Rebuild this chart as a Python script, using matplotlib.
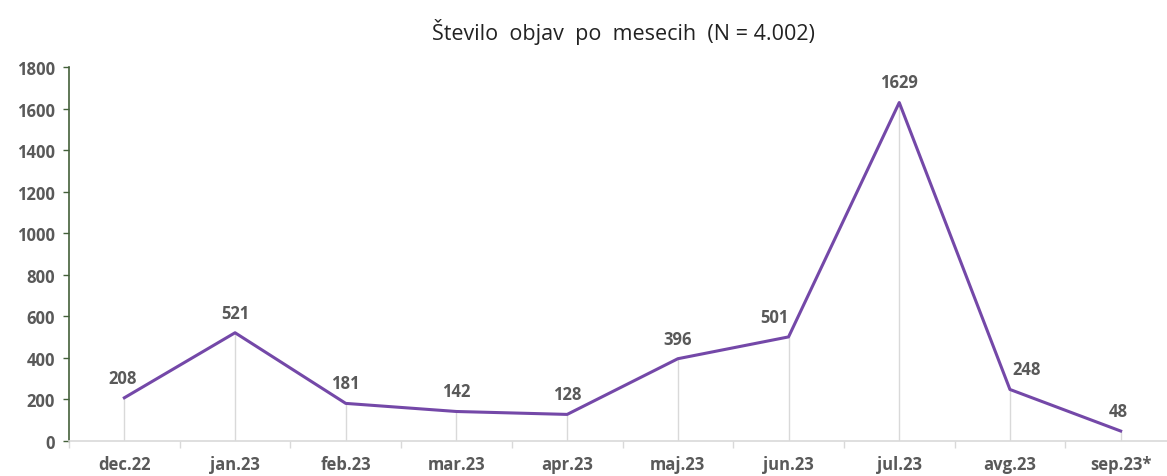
import matplotlib.pyplot as plt
import numpy as np

months = ['dec.22', 'jan.23', 'feb.23', 'mar.23', 'apr.23', 'maj.23',
          'jun.23', 'jul.23', 'avg.23', 'sep.23*']
counts = [208, 521, 181, 142, 128, 396, 501, 1629, 248, 48]
y_ticks = [0, 200, 400, 600, 800, 1000, 1200, 1400, 1600, 1800]
# horizontal nudges of the value labels (points), as placed in the original
label_dx = [-1, 0, 0, 0, 0, 0, -10, 0, 12, -2]

plt.rcParams['font.family'] = ['Open Sans', 'DejaVu Sans']
gray = '#595959'
purple = '#7448a8'

fig = plt.figure(figsize=(11.67, 4.77), dpi=100)
ax = fig.add_axes([69 / 1167, 35 / 477, 1107 / 1167, 374 / 477])

x = np.arange(len(months))
ax.vlines(x, 0, counts, color='#d9d9d9', lw=1, zorder=1)
ax.plot(x, counts, color=purple, lw=2.2, zorder=3)

for xi, v, dx in zip(x, counts, label_dx):
    ax.annotate(str(v), (xi, v), xytext=(dx, 8), textcoords='offset points',
                ha='center', va='bottom', fontsize=12, fontweight='bold',
                color=gray)

ax.set_xlim(-0.5, len(months) - 0.5)
ax.set_ylim(0, 1800)
ax.set_yticks(y_ticks)
ax.set_xticks(x)
ax.set_xticklabels(months)
ax.set_xticks(np.arange(-0.5, len(months), 1), minor=True)

ax.tick_params(axis='y', colors=gray, labelsize=12, length=4, width=1,
               color='#44603a', pad=6)
ax.tick_params(axis='x', which='major', length=0, labelsize=12,
               labelcolor=gray, pad=10)
ax.tick_params(axis='x', which='minor', length=5, color='#d9d9d9', width=1)
for lbl in ax.get_xticklabels() + ax.get_yticklabels():
    lbl.set_fontweight('bold')

ax.spines['top'].set_visible(False)
ax.spines['right'].set_visible(False)
ax.spines['left'].set_color('#44603a')
ax.spines['left'].set_linewidth(1.2)
ax.spines['bottom'].set_color('#d9d9d9')
ax.spines['bottom'].set_linewidth(1.2)

fig.text(623 / 1167, 1 - 32 / 477, 'Število  objav  po  mesecih  (N = 4.002)',
         ha='center', va='center', fontsize=15.5, color='#222222')

fig.savefig('out.png', dpi=100)
